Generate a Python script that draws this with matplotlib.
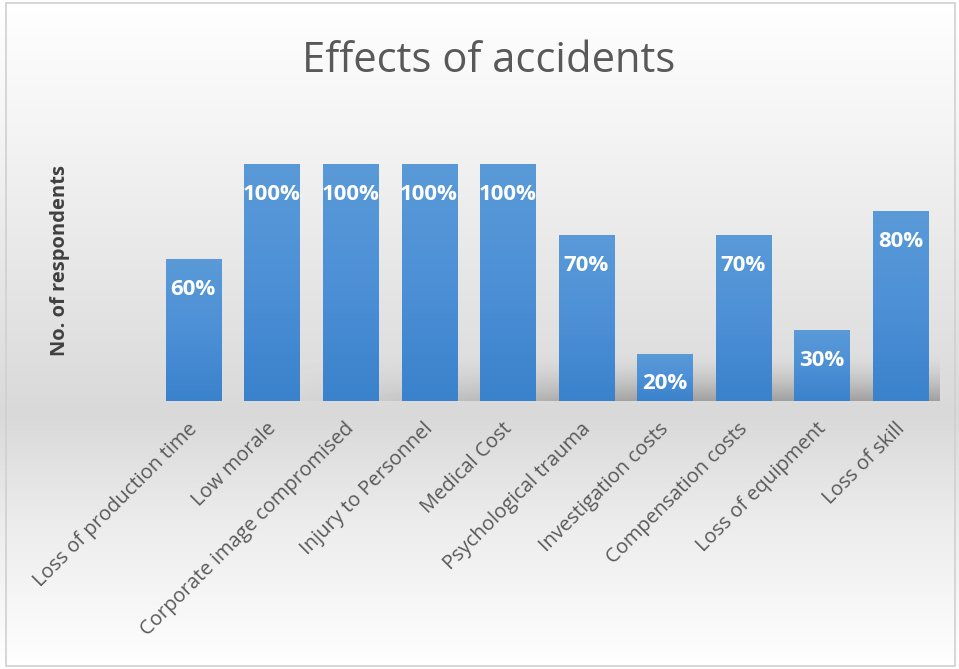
import numpy as np
import matplotlib
matplotlib.use('Agg')
import matplotlib.pyplot as plt
import matplotlib.transforms as mtransforms
from matplotlib.colors import LinearSegmentedColormap
from matplotlib.patches import Rectangle

categories = ['Loss of production time', 'Low morale', 'Corporate image compromised',
              'Injury to Personnel', 'Medical Cost', 'Psychological trauma',
              'Investigation costs', 'Compensation costs', 'Loss of equipment', 'Loss of skill']
values = [60, 100, 100, 100, 100, 70, 20, 70, 30, 80]
labels = ['60%', '100%', '100%', '100%', '100%', '70%', '20%', '70%', '30%', '80%']

plt.rcParams['font.family'] = ['Open Sans', 'DejaVu Sans']

fig = plt.figure(figsize=(9.59, 6.69), dpi=100)

# background gradient (white -> light gray -> white)
bg = fig.add_axes([0, 0, 1, 1], zorder=-10)
bg_cmap = LinearSegmentedColormap.from_list(
    'bg', [(0, '#ffffff'), (0.2, '#f4f4f4'), (0.62, '#d9d9d9'), (0.78, '#ececec'), (1, '#ffffff')])
bg.imshow(np.linspace(0, 1, 256).reshape(-1, 1), aspect='auto', cmap=bg_cmap,
          extent=(0, 1, 0, 1), origin='upper')
bg.set_xlim(0, 1)
bg.set_ylim(0, 1)
bg.axis('off')
bg.add_patch(Rectangle((0.006, 0.004), 0.99, 0.992, fill=False, ec='#d0d0d0', lw=1.2,
                       transform=bg.transAxes))

ax = fig.add_axes([0.1606, 0.4006, 0.8194, 0.3543])
ax.patch.set_alpha(0)
x = np.arange(len(categories))

# soft shadow behind the bars
t = np.linspace(0, 1, 64)
sh_rgba = np.zeros((64, 200, 4))
sh_rgba[..., :3] = 0.4
fade = np.clip(np.linspace(-0.3, 1.8, 200), 0, 1)
sh_rgba[..., 3] = (0.5 * (1 - t) ** 1.6)[:, None] * fade[None, :]
ax.imshow(sh_rgba, aspect='auto', extent=(-0.4, 9.6, 0, 20), origin='lower', zorder=1)

bars = ax.bar(x, values, width=0.7, color='#4a8fd4', zorder=2)

bar_cmap = LinearSegmentedColormap.from_list('bar', ['#3a82cc', '#4d90d6', '#5a9ad8'])
grad = np.linspace(0, 1, 256).reshape(-1, 1)
for b in bars:
    im = ax.imshow(grad, aspect='auto', cmap=bar_cmap, origin='lower', zorder=3,
                   extent=(b.get_x(), b.get_x() + b.get_width(), 0, b.get_height()))
    im.set_clip_path(b)

for xi, v, lab in zip(x, values, labels):
    ax.text(xi, v - 12.8, lab, ha='center', va='center', color='white',
            fontsize=16, fontweight='bold', zorder=4)

ax.set_xlim(-0.5, len(categories) - 0.5)
ax.set_ylim(0, 100)
ax.set_xticks(x)
ax.set_xticklabels(categories, rotation=45, ha='right', rotation_mode='anchor',
                   fontsize=14.5, color='#595959')
ax.tick_params(axis='x', length=0, pad=13)
shift = mtransforms.ScaledTranslation(-6 / 100, 0, fig.dpi_scale_trans)
for lbl in ax.get_xticklabels():
    lbl.set_transform(lbl.get_transform() + shift)
ax.set_yticks([])
for s in ax.spines.values():
    s.set_visible(False)

fig.text(0.063, 0.611, 'No. of respondents', rotation=90, ha='center', va='center',
         fontsize=14.5, fontweight='bold', color='#404040')
fig.text(0.51, 0.909, 'Effects of accidents', ha='center', va='center',
         fontsize=30, color='#595959')

fig.savefig('out.png', dpi=100)
